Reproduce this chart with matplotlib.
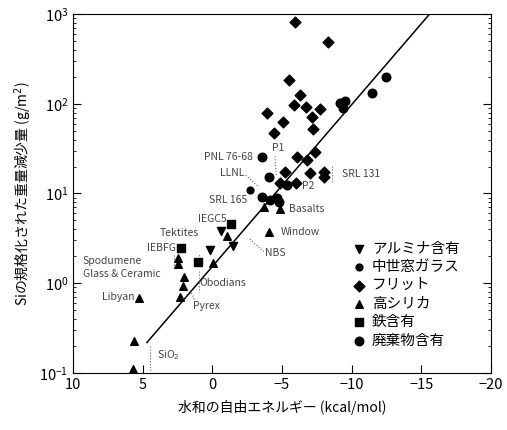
import matplotlib
matplotlib.use("Agg")
import matplotlib.pyplot as plt
import numpy as np

plt.rcParams['font.family'] = ['Noto Sans CJK JP', 'DejaVu Sans']
plt.rcParams['axes.unicode_minus'] = True

# データ
frit_x = [-5.96, -8.28, -5.48, -6.32, -5.84, -6.75, -7.71, -3.93, -7.16, -5.05,
          -4.41, -7.21, -7.39, -6.08, -6.80, -5.24, -7.04, -8.0, -8.0, -6.03, -4.88]
frit_y = [820, 491, 184, 127, 97, 93, 87, 79, 72, 62,
          47, 52, 29, 25.7, 23.6, 17.5, 16.8, 17.2, 15.4, 13.2, 13.0]
waste_x = [-9.19, -9.55, -9.38, -11.46, -12.49, -3.57, -4.05, -5.36,
           -3.57, -4.16, -4.64, -4.77]
waste_y = [103, 107, 91, 133, 200, 25.7, 15.1, 12.4,
           9.2, 8.5, 8.8, 8.1]
medieval_x = [-2.68]
medieval_y = [10.9]
silica_x = [-3.69, -4.84, -4.09, -1.06, -0.05, 2.43, 2.43, 2.01, 2.10, 2.30, 5.28, 5.60, 5.69]
silica_y = [7.0, 6.7, 3.7, 3.36, 1.69, 1.91, 1.62, 1.16, 0.93, 0.70, 0.68, 0.229, 0.11]
iron_x = [-1.34, 2.25, 1.05]
iron_y = [4.6, 2.45, 1.74]
alumina_x = [-0.62, -1.49, 0.19]
alumina_y = [3.85, 2.62, 2.35]

fit_x = [4.69, -15.6]
fit_y = [0.218, 1000]

# ラベル: (文字, x, y, 揃え)
labels = [
    ('PNL 76-68', -2.9, 25.7, 'right'), ('LLNL', -2.3, 17.0, 'right'),
    ('SRL 165', -2.5, 8.5, 'right'), ('IEGC5', -1.0, 5.2, 'right'),
    ('Tektites', 3.75, 3.6, 'left'), ('IEBFG', 2.6, 2.47, 'right'),
    ('Spodumene', 9.3, 1.75, 'left'), ('Glass & Ceramic', 9.3, 1.25, 'left'),
    ('Libyan', 7.9, 0.70, 'left'), ('Obodians', 0.9, 1.0, 'left'),
    ('Pyrex', 1.4, 0.56, 'left'), ('SiO$_2$', 4.0, 0.158, 'left'),
    ('Basalts', -5.5, 6.7, 'left'), ('Window', -4.9, 3.7, 'left'),
    ('NBS', -3.8, 2.17, 'left'), ('P1', -4.3, 32, 'left'),
    ('P2', -6.45, 12.1, 'left'), ('SRL 131', -9.3, 16.5, 'left'),
]
# 引き出し線: (x0, y0, x1, y1)
leaders = [
    (-4.5, 26, -4.6, 15.5), (-2.4, 16.0, -3.3, 12.0), (-2.7, 3.1, -3.7, 2.25),
    (0.9, 2.05, 1.0, 1.85), (-8.6, 20.5, -8.6, 13.5), (4.5, 0.2, 4.5, 0.105),
    (0.95, 1.35, 0.95, 0.8), (2.75, 2.05, 2.75, 1.45), (1.3, 0.66, 1.5, 0.78),
]

fig = plt.figure(figsize=(5.07, 4.30), dpi=100)
ax = fig.add_axes([0.144, 0.133, 0.824, 0.834])

ax.plot(fit_x, fit_y, color='black', lw=1.1)

ax.scatter(alumina_x, alumina_y, marker='v', s=34, color='black', label='アルミナ含有', zorder=3)
ax.scatter(medieval_x, medieval_y, marker='o', s=24, color='black', label='中世窓ガラス', zorder=3)
ax.scatter(frit_x, frit_y, marker='D', s=30, color='black', label='フリット', zorder=3)
ax.scatter(silica_x, silica_y, marker='^', s=30, color='black', label='高シリカ', zorder=3)
ax.scatter(iron_x, iron_y, marker='s', s=28, color='black', label='鉄含有', zorder=3)
ax.scatter(waste_x, waste_y, marker='o', s=38, color='black', label='廃棄物含有', zorder=3)

ax.set_yscale('log')
ax.set_xlim(10, -20)
ax.set_ylim(0.1, 1000)
ax.set_xticks([10, 5, 0, -5, -10, -15, -20])
ax.tick_params(which='both', direction='in', top=False, right=True, labelsize=10.5)
ax.tick_params(which='major', length=6)
ax.tick_params(which='minor', length=2)

ax.set_xlabel('水和の自由エネルギー (kcal/mol)', fontsize=10, labelpad=6)
ax.set_ylabel('Siの規格化された重量減少量 (g/m$^2$)', fontsize=10, labelpad=4)

tc = '#444444'
for t, lx, ly, ha in labels:
    ax.text(lx, ly, t, fontsize=7.5, color=tc, va='center', ha=ha)
for x0, y0, x1, y1 in leaders:
    ax.plot([x0, x1], [y0, y1], color='#666666', lw=0.8, ls=':')

ax.legend(loc='lower right', frameon=False, fontsize=10.5, handletextpad=0.3,
          borderaxespad=0.6, labelspacing=0.3, handlelength=1.2,
          bbox_to_anchor=(0.96, 0.03))

fig.savefig('out.png', dpi=100)
